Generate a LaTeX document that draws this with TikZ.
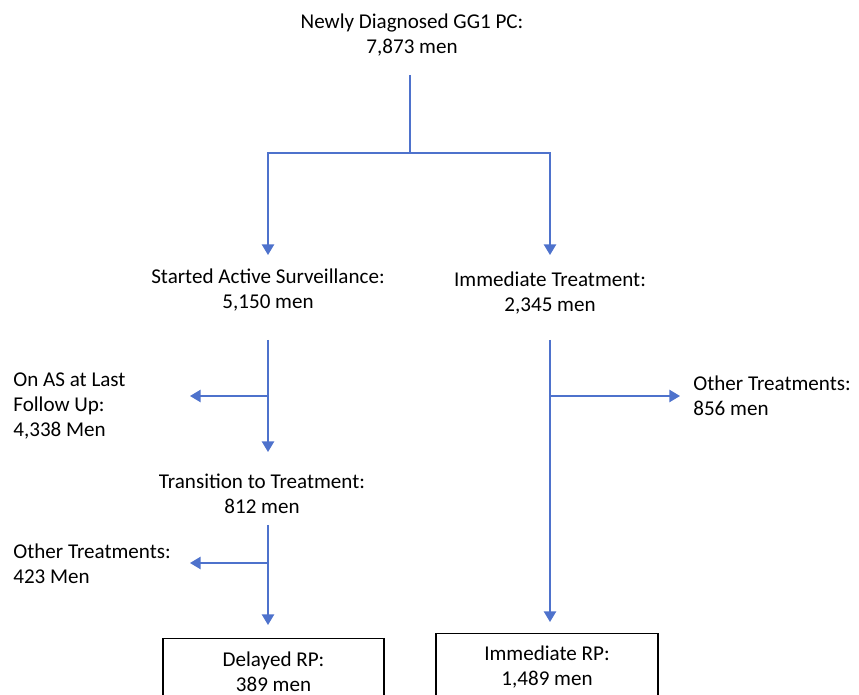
\documentclass[tikz,border=0pt]{standalone}
\usepackage{fontspec}
\setmainfont{Carlito}
\usetikzlibrary{arrows.meta}
\definecolor{flowblue}{RGB}{78,114,204}
\tikzset{
  link/.style={draw=flowblue,line width=0.7pt},
  arr/.style={link,-{Triangle[width=7pt,length=6pt]}},
  lbl/.style={align=center,inner sep=0pt,font=\fontsize{12}{14.2}\selectfont},
  lbll/.style={lbl,align=left,anchor=west},
  box/.style={lbl,draw=black,line width=0.7pt,minimum height=1.32cm,anchor=north}
}
\begin{document}
\begin{tikzpicture}[x=0.02cm,y=-0.02cm]
  \useasboundingbox (0,0) rectangle (859,695);
  \clip (0,0) rectangle (859,695);
  % text
  \node[lbl](diag)at(412,35){Newly Diagnosed GG1 PC:\\7,873 men};
  \node[lbl](as)at(268,290.5){Started Active Surveillance:\\5,150 men};
  \node[lbl](imm)at(550,293.5){Immediate Treatment:\\2,345 men};
  \node[lbll](onas)at(13,406){On AS at Last\\Follow Up:\\4,338 Men};
  \node[lbl](trans)at(262,493.5){Transition to Treatment:\\812 men};
  \node[lbll](othl)at(13,563.5){Other Treatments:\\423 Men};
  \node[lbll](othr)at(693,395.5){Other Treatments:\\856 men};
  \node[box,minimum width=4.42cm](drp)at(273.5,638){Delayed RP:\\389 men};
  \node[box,minimum width=4.44cm](irp)at(547,633){Immediate RP:\\1,489 men};
  % connectors
  \coordinate(t0)at(410,75);
  \coordinate(t1)at(410,153);
  \coordinate(asin)at(268,255);
  \coordinate(imin)at(550,255);
  \draw[link](t0)--(t1);
  \draw[arr](t1)-|(asin);
  \draw[arr](t1)-|(imin);
  \coordinate(a0)at(268,340);
  \coordinate(a1)at(268,396);
  \coordinate(a2)at(268,452);
  \coordinate(onasin)at(190,396);
  \draw[arr](a0)--(a2);
  \draw[arr](a1)--(onasin);
  \coordinate(b0)at(268,525);
  \coordinate(b1)at(268,563);
  \coordinate(b2)at(268,625);
  \coordinate(othlin)at(190,563);
  \draw[arr](b0)--(b2);
  \draw[arr](b1)--(othlin);
  \coordinate(c0)at(550,340);
  \coordinate(c1)at(550,396);
  \coordinate(c2)at(550,622);
  \coordinate(othrin)at(680,396);
  \draw[arr](c0)--(c2);
  \draw[arr](c1)--(othrin);
\end{tikzpicture}
\end{document}
